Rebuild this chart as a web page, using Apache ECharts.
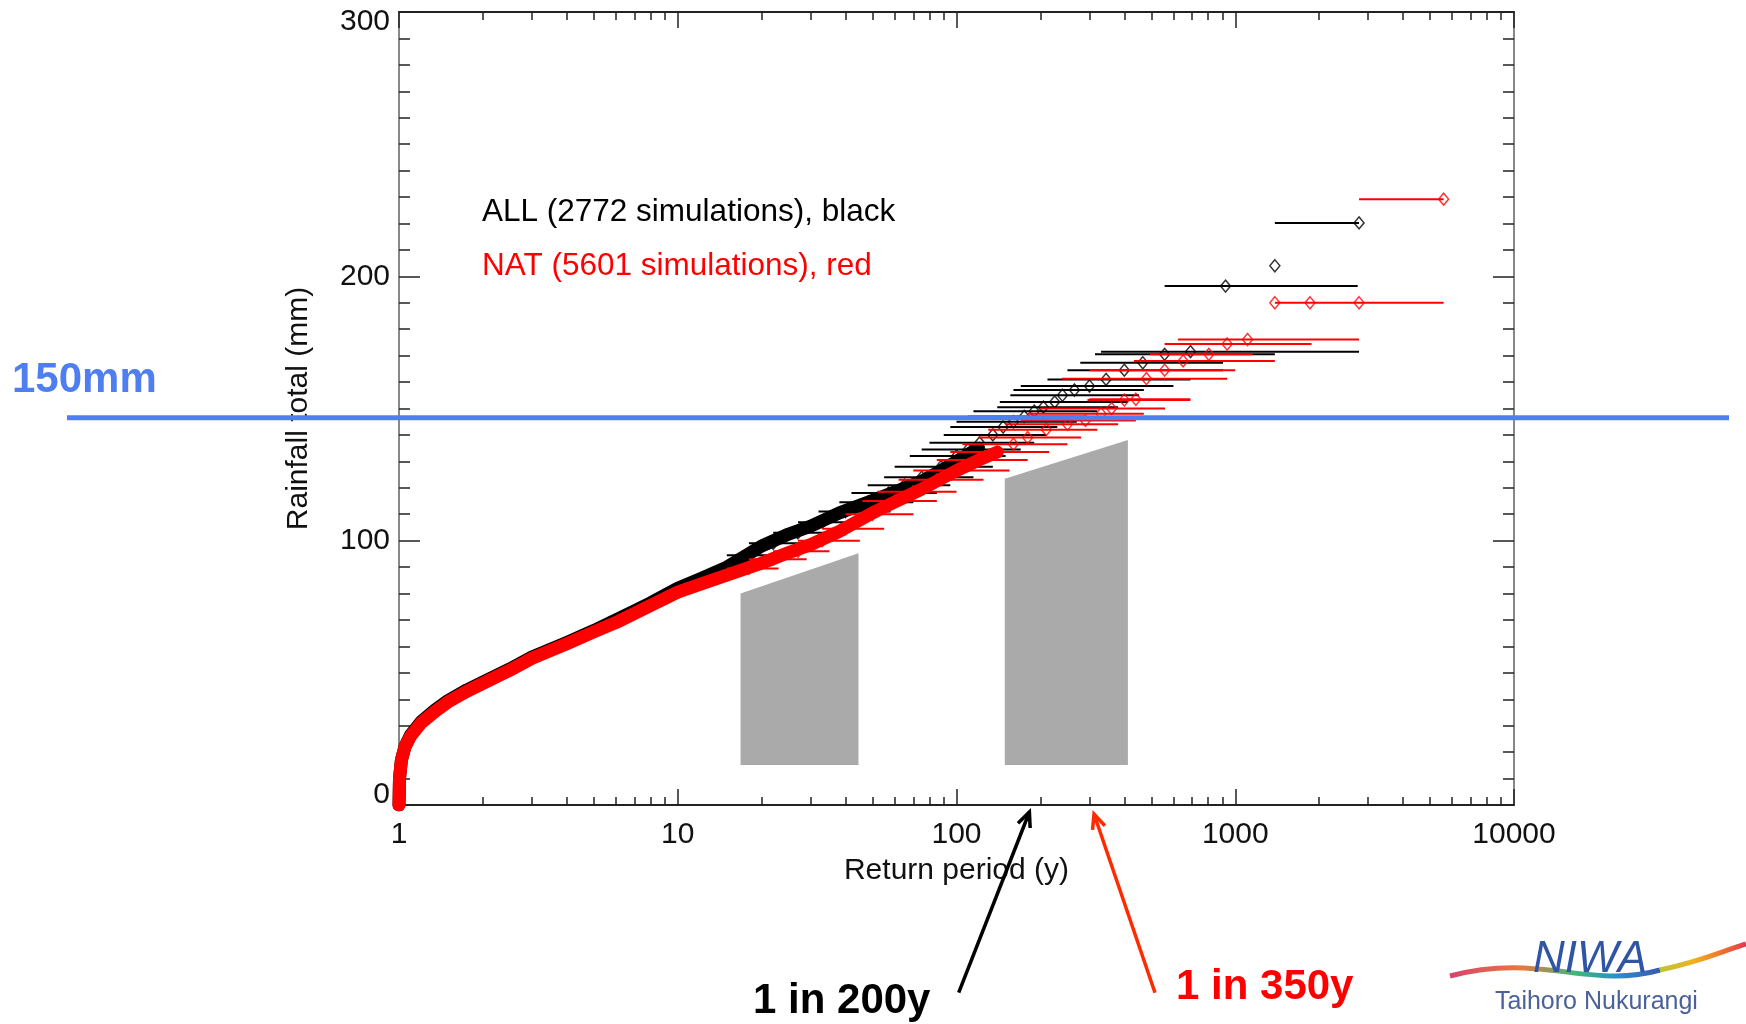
<!DOCTYPE html>
<html><head><meta charset="utf-8">
<script src="https://cdn.jsdelivr.net/npm/echarts@6/dist/echarts.min.js"></script>
<style>html,body{margin:0;padding:0;background:#fff;}#c{width:1746px;height:1024px;}</style>
</head><body><div id="c"></div>
<script>
// ---------- DATA ----------
const xTickLabels = ['1', '10', '100', '1000', '10000'];
const xMajor = [1, 10, 100, 1000, 10000];
const yTickLabels = ['0', '100', '200', '300'];

// dense part of the curves (return period in years, rainfall total in mm)
const allBandT = [1, 1.004, 1.02, 1.05, 1.1, 1.2, 1.35, 1.5, 1.75, 2, 2.5, 3, 4, 5, 6, 7, 8, 10, 12, 15, 20, 25, 30, 38, 48, 57, 75, 88, 100, 120];
const allBandR = [0, 10, 17, 22, 26.5, 31.5, 36, 39.5, 43.5, 46.5, 51.5, 56, 61.5, 66, 70, 73.5, 76.5, 82, 85.5, 90, 98, 102.5, 105.5, 110.5, 114.5, 117.5, 122.5, 126.5, 130, 135];
const natBandT = [1, 1.004, 1.02, 1.05, 1.1, 1.2, 1.35, 1.5, 1.75, 2, 2.5, 3, 4, 5, 6, 7, 8, 10, 12, 15, 20, 25, 30, 38, 50, 57, 75, 100, 120, 140];
const natBandR = [0, 10, 17, 22, 26, 31, 35.5, 39, 43, 46, 51, 55.5, 61, 65.5, 69, 72.5, 75.5, 80.5, 83.5, 87, 91.5, 95.5, 98.5, 103.5, 110.5, 113.5, 119.5, 126.5, 130.5, 133.5];

// individual estimates with return-period uncertainty range (ALL, black)
const allT  = [18, 22, 27, 33, 40, 48, 57, 65, 75, 88, 100, 110, 121, 135, 147, 160, 175, 190, 205, 225, 240, 265, 300, 344, 400, 466, 558, 691, 923, 1387, 2780];
const allR  = [94.5, 99, 103, 107, 111, 114.5, 118, 121, 124, 128, 132, 134.5, 137, 140, 143, 145, 147, 149, 150.5, 152.5, 155, 157, 158.5, 161, 164.5, 167.3, 170.5, 171.5, 196.3, 204, 220.2];
const allLo = [15, 18, 22, 27, 32, 38, 42, 48, 55, 60, 68, 75, 80, 90, 95, 100, 110, 115, 140, 143, 156, 160, 170, 212, 250, 278, 314, 330, 558, 1387, 1387];
const allHi = [23, 29, 37, 47, 58, 70, 85, 95, 115, 135, 150, 170, 190, 210, 230, 270, 290, 320, 380, 412, 452, 470, 600, 691, 904, 904, 1387, 2780, 2750, 1387, 2780];

// (NAT, red)
const natT  = [18, 22, 27, 33, 40, 50, 60, 70, 85, 100, 120, 140, 160, 180, 210, 250, 290, 330, 360, 400, 440, 480, 558, 650, 804, 935, 1107, 1387, 1854, 2780, 5590];
const natR  = [89.5, 93, 96, 100, 104.5, 110, 115, 118.5, 123, 126.5, 130.5, 133.5, 136.5, 139, 142, 144, 145.5, 148, 150, 153.2, 153.5, 161.3, 164.5, 168, 170.5, 174.4, 176.1, 190, 190, 190, 229.2];
const natLo = [15, 18, 22, 27, 33, 40, 46, 52, 62, 70, 85, 95, 105, 120, 130, 150, 170, 180, 200, 295, 300, 239, 300, 433, 494, 558, 623, 1387, 1854, 2780, 2780];
const natHi = [23, 29, 35, 45, 55, 70, 85, 100, 125, 155, 180, 215, 250, 280, 320, 380, 440, 470, 560, 690, 690, 936, 1000, 1387, 1156, 1877, 2780, 5590, 1854, 2780, 5590];

// grey patches (corners: return period, rainfall)
const patch1T = [16.8, 44.5, 44.5, 16.8];
const patch1R = [15.1, 15.1, 95.2, 80];
const patch2T = [149, 412, 412, 149];
const patch2R = [15.1, 15.1, 138.1, 123.4];

const thresholdR = 146.5;
const thresholdLabel = '150mm';
const allLabel = 'ALL (2772 simulations), black';
const natLabel = 'NAT (5601 simulations), red';
const arrowLabels = ['1 in 200y', '1 in 350y'];

// ---------- CHART ----------
const FONT = "'Liberation Sans', Arial, Helvetica, sans-serif";
const xMinor = [];
for (let d = 1; d < 10000; d *= 10) for (let k = 2; k <= 9; k++) xMinor.push(k * d);

const chart = echarts.init(document.getElementById('c'), null, {renderer: 'canvas'});

function xAx(pos, ticks, len, labels) {
  return {
    type: 'log', logBase: 10, min: 1, max: 10000, position: pos,
    splitLine: {show: false},
    axisLine: {show: labels !== null, onZero: false, lineStyle: {color: '#222', width: 2}},
    axisTick: {show: true, inside: true, length: len, customValues: ticks, lineStyle: {color: '#222', width: 1.5}},
    axisLabel: labels ? {show: true, customValues: xMajor, fontFamily: FONT, fontSize: 30, color: '#111', margin: 15,
      formatter: v => xTickLabels[Math.round(Math.log10(v))]} : {show: false},
    name: labels ? 'Return period (y)' : '', nameLocation: 'middle', nameGap: 51,
    nameTextStyle: {fontFamily: FONT, fontSize: 30, color: '#111'}
  };
}
function yAx(pos, withLabels) {
  return {
    type: 'value', min: 0, max: 300, interval: 100, position: pos,
    splitLine: {show: false}, minorSplitLine: {show: false},
    axisLine: {show: true, onZero: false, lineStyle: {color: '#888', width: 2}},
    axisTick: {show: true, inside: true, length: 21, lineStyle: {color: '#222', width: 1.5}},
    minorTick: {show: true, splitNumber: 10, length: 11, lineStyle: {color: '#222', width: 1.5}},
    axisLabel: withLabels ? {show: true, fontFamily: FONT, fontSize: 30, color: '#111', margin: 9, lineHeight: 20,
      verticalAlignMinLabel: 'bottom', verticalAlignMaxLabel: 'top',
      formatter: v => yTickLabels[Math.round(v / 100)]} : {show: false},
    name: withLabels ? 'Rainfall total (mm)' : '', nameLocation: 'middle', nameGap: 85,
    nameTextStyle: {fontFamily: FONT, fontSize: 30, color: '#111'}
  };
}

function barSeries(T, R, Lo, Hi, color, z) {
  return {
    type: 'custom', xAxisIndex: 0, yAxisIndex: 0, clip: true, silent: true, z: z,
    data: T.map((t, i) => [t, R[i], Lo[i], Hi[i]]),
    encode: {x: [0, 2, 3], y: 1},
    renderItem: (params, api) => {
      const a = api.coord([api.value(2), api.value(1)]);
      const b = api.coord([api.value(3), api.value(1)]);
      return {type: 'line', shape: {x1: a[0], y1: a[1], x2: b[0], y2: b[1]}, style: {stroke: color, lineWidth: 2}};
    }
  };
}
function pointSeries(T, R, color, z) {
  return {
    type: 'scatter', xAxisIndex: 0, yAxisIndex: 0, silent: true, z: z,
    symbol: 'diamond', symbolSize: [10, 12],
    itemStyle: {color: 'rgba(0,0,0,0)', borderColor: color, borderWidth: 1.5},
    data: T.map((t, i) => [t, R[i]])
  };
}
function bandSeries(T, R, color, z) {
  return {
    type: 'line', xAxisIndex: 0, yAxisIndex: 0, silent: true, z: z, showSymbol: false, symbol: 'none',
    lineStyle: {color: color, width: 13, cap: 'round', join: 'round'},
    data: T.map((t, i) => [t, R[i]])
  };
}

const option = {
  backgroundColor: '#fff',
  animation: false,
  grid: {left: 399, right: 232, top: 12, bottom: 219, containLabel: false},
  xAxis: [
    xAx('bottom', xMajor, 16, true),
    xAx('bottom', xMinor, 8, null),
    xAx('top', xMajor, 16, false),
    xAx('top', xMinor, 8, null)
  ],
  yAxis: [yAx('left', true), yAx('right', false)],
  series: [
    bandSeries(allBandT, allBandR, '#000', 2),
    barSeries(allT, allR, allLo, allHi, '#000', 3),
    pointSeries(allT, allR, '#000', 4),
    bandSeries(natBandT, natBandR, '#ff0000', 5),
    barSeries(natT, natR, natLo, natHi, '#ff0000', 6),
    pointSeries(natT, natR, '#ff0000', 7),
    {
      type: 'custom', xAxisIndex: 0, yAxisIndex: 0, silent: true, z: 8,
      data: [
        patch1T.flatMap((t, i) => [t, patch1R[i]]),
        patch2T.flatMap((t, i) => [t, patch2R[i]])
      ],
      encode: {x: [0, 2, 4, 6], y: [1, 3, 5, 7]},
      renderItem: (params, api) => {
        const pts = [];
        for (let k = 0; k < 4; k++) pts.push(api.coord([api.value(2 * k), api.value(2 * k + 1)]));
        return {type: 'polygon', shape: {points: pts}, style: {fill: '#aaaaaa'}};
      }
    }
  ]
};
chart.setOption(option);

// ---------- ANNOTATIONS ----------
const yThr = chart.convertToPixel({yAxisIndex: 0}, thresholdR);
function arrow(x1, y1, x2, y2, color) {
  const dx = x1 - x2, dy = y1 - y2, L = Math.hypot(dx, dy);
  const ux = dx / L, uy = dy / L, h = 16, a = 0.42;
  const p1 = [x2 + h * (ux * Math.cos(a) - uy * Math.sin(a)), y2 + h * (ux * Math.sin(a) + uy * Math.cos(a))];
  const p2 = [x2 + h * (ux * Math.cos(-a) - uy * Math.sin(-a)), y2 + h * (ux * Math.sin(-a) + uy * Math.cos(-a))];
  return [
    {type: 'line', shape: {x1, y1, x2, y2}, style: {stroke: color, lineWidth: 3.5}, z: 100},
    {type: 'polyline', shape: {points: [p1, [x2, y2], p2]}, style: {stroke: color, lineWidth: 3.5, fill: null}, z: 100}
  ];
}
const graphics = [
  {type: 'text', left: 482, top: 196, style: {text: allLabel, font: "31.5px " + FONT, fill: '#000'}, z: 100},
  {type: 'text', left: 482, top: 250, style: {text: natLabel, font: "31.5px " + FONT, fill: '#ff0000'}, z: 100},
  {type: 'line', shape: {x1: 67, y1: yThr, x2: 1729, y2: yThr}, style: {stroke: '#4f7ef0', lineWidth: 5}, z: 100},
  {type: 'text', x: 12, y: 380, style: {text: thresholdLabel, font: "bold 42px " + FONT, fill: '#4f7ef0', verticalAlign: 'middle'}, z: 100},
  ...arrow(958.7, 992.7, 1029.4, 812, '#000'),
  ...arrow(1155, 992.7, 1094, 814, '#ff2a00'),
  {type: 'text', x: 753, y: 1001, style: {text: arrowLabels[0], font: "bold 42px " + FONT, fill: '#000', verticalAlign: 'middle'}, z: 100},
  {type: 'text', x: 1176, y: 987, style: {text: arrowLabels[1], font: "bold 42px " + FONT, fill: '#ff0000', verticalAlign: 'middle'}, z: 100},
  // NIWA logo
  {type: 'bezierCurve', shape: {x1: 1450, y1: 976, cpx1: 1540, cpy1: 952, cpx2: 1590, cpy2: 990, x2: 1660, y2: 970},
    style: {lineWidth: 5, fill: null, stroke: new echarts.graphic.LinearGradient(0, 0, 1, 0, [
      {offset: 0, color: '#d8406e'}, {offset: 0.35, color: '#e77a3c'}, {offset: 0.6, color: '#3cb878'},
      {offset: 0.8, color: '#2a8ccc'}, {offset: 1, color: '#3a56b0'}])}, z: 90},
  {type: 'bezierCurve', shape: {x1: 1660, y1: 970, cpx1: 1700, cpy1: 962, cpx2: 1720, cpy2: 952, x2: 1746, y2: 944},
    style: {lineWidth: 5, fill: null, stroke: new echarts.graphic.LinearGradient(0, 0, 1, 0, [
      {offset: 0, color: '#b8c830'}, {offset: 0.4, color: '#f0b020'}, {offset: 0.75, color: '#ee6a32'}, {offset: 1, color: '#e0305a'}])}, z: 90},
  {type: 'text', x: 1533, y: 960, style: {text: 'NIWA', font: "italic 44px " + FONT, fill: '#2f55a4', verticalAlign: 'middle'}, z: 95},
  {type: 'text', x: 1495, y: 1002, style: {text: 'Taihoro Nukurangi', font: "25px " + FONT, fill: '#4b6199', verticalAlign: 'middle'}, z: 95}
];
chart.setOption({graphic: graphics});
</script>
</body></html>
